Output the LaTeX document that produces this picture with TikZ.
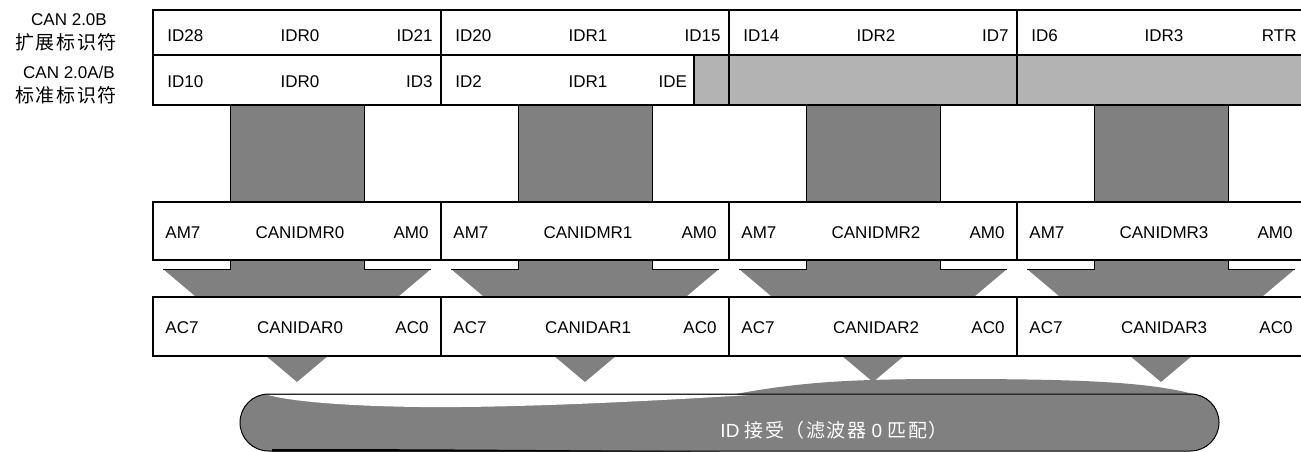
\documentclass[tikz,border=0pt]{standalone}
\usepackage{fontspec}
\setmainfont{Liberation Sans}
\newfontfamily\cjkfont[LetterSpace=8]{Noto Sans CJK SC}
\usetikzlibrary{positioning, shapes.misc}

\definecolor{barGray}{HTML}{808080}
\definecolor{padGray}{HTML}{B3B3B3}

\begin{document}
\begin{tikzpicture}[x=1pt, y=-1pt, font=\fontsize{17}{20}\selectfont,
    reg/.style={rectangle, draw=black, line width=1.5pt, minimum width=288pt, inner sep=0pt},
    extcell/.style={reg, minimum height=45pt},
    stdcell/.style={reg, minimum height=50pt},
    maskcell/.style={reg, fill=white, minimum height=58pt},
    acccell/.style={reg, fill=white, minimum height=59pt},
    lbl/.style={inner sep=0pt},
    cjk/.style={inner sep=0pt, font=\fontsize{19}{20}\cjkfont},
    bar/.style={fill=barGray},
    edge/.style={draw=black, line width=0.8pt},
    accept/.style={rounded rectangle, fill=barGray, draw=black, line width=1pt,
      minimum width=979pt, minimum height=57pt, inner sep=0pt}]
  \useasboundingbox (0,0) rectangle (1301,452);

  % left captions
  \node[lbl] (extcap) at (69,20) {CAN 2.0B};
  \node[cjk] (extcapcn) at (66,42) {扩展标识符};
  \node[lbl] (stdcap) at (69,72) {CAN 2.0A/B};
  \node[cjk] (stdcapcn) at (66,95) {标准标识符};

  % filter arrows (shaft + head), behind the register rows
  \foreach \i in {0,...,3} {
    \pgfmathsetmacro\cx{297+288*\i}
    \fill[bar] (\cx-67,105) -- (\cx-67,269) -- (\cx-134,269) -- (\cx,382)
      -- (\cx+134,269) -- (\cx+67,269) -- (\cx+67,105) -- cycle;
    \draw[edge] (\cx-67,105) -- (\cx-67,269) -- (\cx-134,269)
      (\cx+67,105) -- (\cx+67,269) -- (\cx+134,269);
  }

  % identifier registers, extended
  \foreach \i/\hi/\lo in {0/ID28/ID21, 1/ID20/ID15, 2/ID14/ID7, 3/ID6/RTR} {
    \node[extcell] (ext\i) at (297+288*\i,32.5) {};
    \node[lbl, anchor=west] (ext\i hi) at ([xshift=15pt, yshift=-3pt]ext\i.west) {\hi};
    \node[lbl] (ext\i name) at ([xshift=3pt, yshift=-3pt]ext\i.center) {IDR\i};
    \node[lbl, anchor=east] (ext\i lo) at ([xshift=-9pt, yshift=-3pt]ext\i.east) {\lo};
  }

  % identifier registers, standard
  \node[stdcell, fill=padGray] (std2) at (873,80) {};
  \node[stdcell, fill=padGray] (std3) at (1161,80) {};
  \node[stdcell] (std0) at (297,80) {};
  \node[stdcell] (std1) at (585,80) {};
  \node[rectangle, draw=black, line width=1.5pt, fill=padGray, minimum width=35pt,
    minimum height=50pt, inner sep=0pt] (idepad) at (711.5,80) {};
  \foreach \i/\hi/\lo in {0/ID10/ID3, 1/ID2/} {
    \node[lbl, anchor=west] (std\i hi) at ([xshift=15pt, yshift=-2pt]std\i.west) {\hi};
    \node[lbl] (std\i name) at ([xshift=3pt, yshift=-2pt]std\i.center) {IDR\i};
  }
  \node[lbl, anchor=east] (std0lo) at ([xshift=-9pt, yshift=-2pt]std0.east) {ID3};
  \node[lbl, anchor=east] (std1lo) at ([xshift=-6pt, yshift=-2pt]idepad.west) {IDE};

  % mask and acceptance registers
  \foreach \i in {0,...,3} {
    \node[maskcell] (mask\i) at (297+288*\i,231) {};
    \node[lbl, anchor=west] (mask\i hi) at ([xshift=13pt, yshift=-2pt]mask\i.west) {AM7};
    \node[lbl] (mask\i name) at ([xshift=3pt, yshift=-2pt]mask\i.center) {CANIDMR\i};
    \node[lbl, anchor=east] (mask\i lo) at ([xshift=-13pt, yshift=-2pt]mask\i.east) {AM0};
    \node[acccell] (acc\i) at (297+288*\i,326.5) {};
    \node[lbl, anchor=west] (acc\i hi) at ([xshift=13pt, yshift=-1pt]acc\i.west) {AC7};
    \node[lbl] (acc\i name) at ([xshift=3pt, yshift=-1pt]acc\i.center) {CANIDAR\i};
    \node[lbl, anchor=east] (acc\i lo) at ([xshift=-13pt, yshift=-1pt]acc\i.east) {AC0};
  }

  % ID accepted bar
  \fill[barGray] (733,394.5) .. controls (800,382) and (850,379) .. (950,379)
    .. controls (1080,379) and (1150,382) .. (1195,394.5) -- cycle;
  \node[accept] (hit) at (729.5,422.5) {};
  \fill[white] (268,395) -- (750,395) .. controls (650,401) and (520,408) .. (420,407)
    .. controls (340,406) and (290,401) .. (268,395) -- cycle;
  \fill[black] (272,449) .. controls (450,449) and (600,450.5) .. (720,451.5)
    -- (272,451.5) -- cycle;
  \node[lbl, text=white, font=\fontsize{19}{20}\selectfont] (hittxt) at (834,430)
    {ID {\cjkfont 接受（滤波器} 0 {\cjkfont 匹配）}};
\end{tikzpicture}
\end{document}
